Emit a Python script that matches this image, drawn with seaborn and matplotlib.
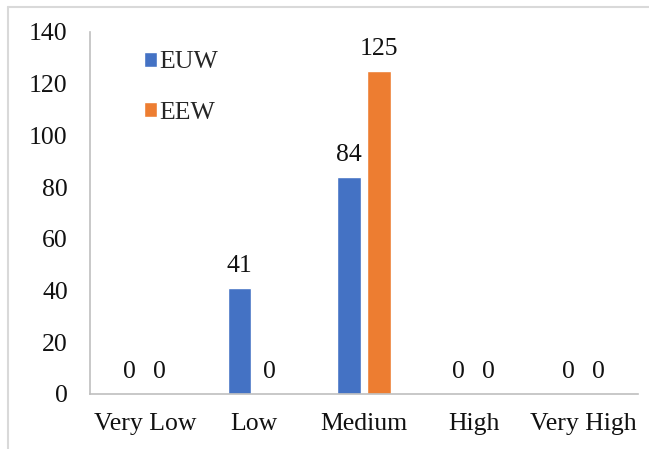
import pandas as pd
import matplotlib.pyplot as plt
import seaborn as sns
from matplotlib.lines import Line2D

# data
categories = ['Very Low', 'Low', 'Medium', 'High', 'Very High']
euw_values = [0, 41, 84, 0, 0]
eew_values = [0, 0, 125, 0, 0]
series_names = ['EUW', 'EEW']
palette = ['#4472C4', '#ED7D31']

df = pd.DataFrame({
    'Category': categories * 2,
    'Series': [series_names[0]] * len(categories) + [series_names[1]] * len(categories),
    'Value': euw_values + eew_values,
})

sns.set_style('white')
plt.rcParams['font.family'] = ['Liberation Serif', 'DejaVu Serif']
fs = 18.5

fig = plt.figure(figsize=(6.49, 4.49), dpi=100)
ax = fig.add_axes([90 / 649, 1 - 394 / 449, 548 / 649, 362 / 449])

sns.barplot(data=df, x='Category', y='Value', hue='Series', order=categories,
            hue_order=series_names, palette=palette, width=0.545, gap=0.2,
            saturation=1, ax=ax)

for cont in ax.containers:
    ax.bar_label(cont, fmt='%d', padding=8, fontsize=fs, color='#111111')

ax.set_ylim(0, 140)
ax.set_yticks(range(0, 141, 20))
ax.set_xlim(-0.5, 4.5)
ax.set_xlabel('')
ax.set_ylabel('')
ax.tick_params(axis='both', labelsize=fs, length=0, colors='#111111')
ax.tick_params(axis='y', pad=16)
ax.tick_params(axis='x', pad=14)

for side in ['top', 'right']:
    ax.spines[side].set_visible(False)
for side in ['left', 'bottom']:
    ax.spines[side].set_color('#BFBFBF')
    ax.spines[side].set_linewidth(1.2)

ax.legend(loc='upper left', bbox_to_anchor=(0.08, 0.975), frameon=False,
          fontsize=fs, handlelength=0.5, handleheight=0.5, handletextpad=0.1,
          labelspacing=1.1, borderaxespad=0)

# light gray frame around the chart area (top and left edges visible)
fig.add_artist(Line2D([8 / 649, 1], [1 - 6.5 / 449, 1 - 6.5 / 449], color='#D9D9D9', lw=1.5))
fig.add_artist(Line2D([8 / 649, 8 / 649], [0, 1 - 6.5 / 449], color='#D9D9D9', lw=1.5))

fig.savefig('out.png', dpi=100)
